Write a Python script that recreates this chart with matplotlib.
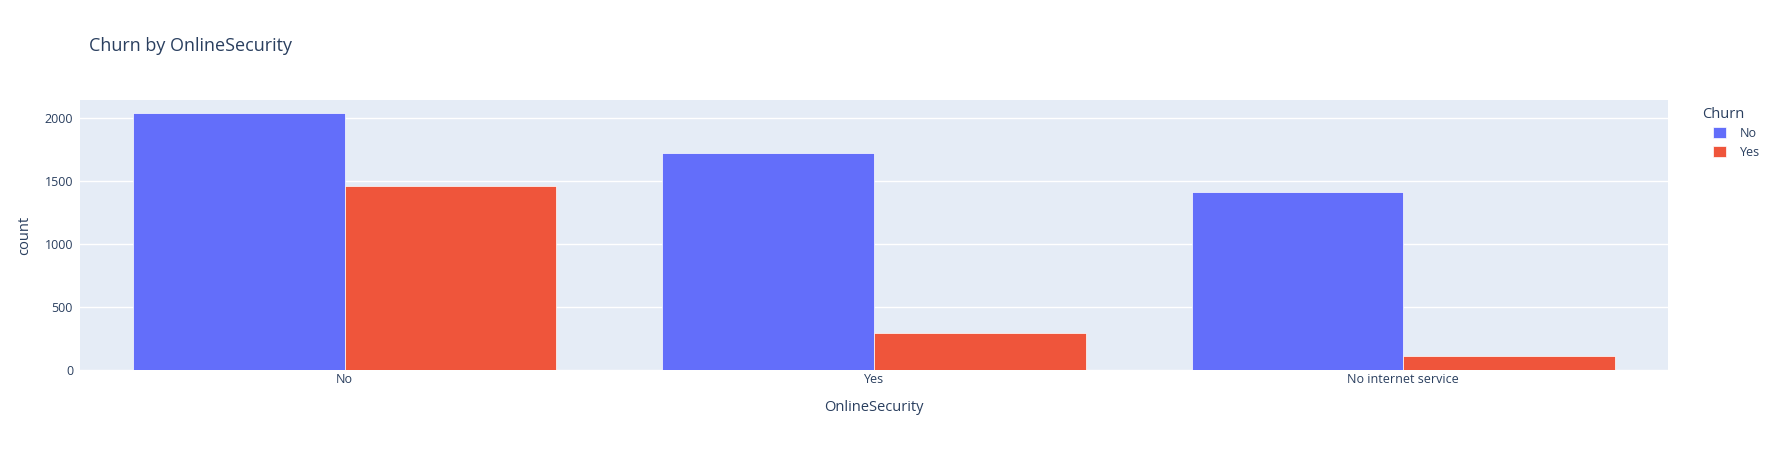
import matplotlib

matplotlib.use("Agg")
import matplotlib.pyplot as plt
import numpy as np
from matplotlib.patches import Patch

plt.rcParams["font.family"] = ["Open Sans", "DejaVu Sans"]

# data
categories = ["No", "Yes", "No internet service"]
churn_no = [2037, 1724, 1413]
churn_yes = [1461, 295, 113]
series_names = ["No", "Yes"]

TEXT = "#2a3f5f"
BG = "#E5ECF6"
COLORS = ["#636EFA", "#EF553B"]

fig = plt.figure(figsize=(17.78, 4.5), dpi=100)
ax = fig.add_axes([80 / 1778, 80 / 450, 1588 / 1778, 270 / 450])
ax.set_facecolor(BG)

x = np.arange(len(categories))
width = 0.4
ax.bar(x - width / 2, churn_no, width, color=COLORS[0], edgecolor="white",
       linewidth=0.5, zorder=3, label=series_names[0])
ax.bar(x + width / 2, churn_yes, width, color=COLORS[1], edgecolor="white",
       linewidth=0.5, zorder=3, label=series_names[1])

ax.set_xlim(-0.5, len(categories) - 0.5)
ax.set_ylim(0, max(churn_no + churn_yes) * 1.0525)
ax.set_yticks([0, 500, 1000, 1500, 2000])
ax.set_xticks(x)
ax.set_xticklabels(categories)
ax.grid(axis="y", color="white", linewidth=1, zorder=0)
ax.tick_params(length=0, labelsize=9, colors=TEXT, pad=5)
ax.tick_params(axis="x", pad=2)
for s in ax.spines.values():
    s.set_visible(False)

ax.set_xlabel("OnlineSecurity", fontsize=10.5, color=TEXT, labelpad=10)
ax.set_ylabel("count", fontsize=10.5, color=TEXT, labelpad=9)

fig.text(89 / 1778, 1 - 46 / 450, "Churn by OnlineSecurity", fontsize=13,
         color=TEXT, va="center", ha="left")

# legend: title drawn separately so the items can be indented like plotly
fig.text(1702 / 1778, 1 - 115 / 450, "Churn", fontsize=10.5, color=TEXT,
         va="center", ha="left")
handles = [Patch(facecolor=COLORS[i], edgecolor="white", linewidth=0.5,
                 label=series_names[i]) for i in range(2)]
leg = fig.legend(handles=handles, loc="upper left",
                 bbox_to_anchor=(1713 / 1778, 1 - 126.5 / 450), frameon=False,
                 borderpad=0, borderaxespad=0,
                 fontsize=9, handlelength=1.05, handleheight=1.05,
                 handletextpad=1.1, labelspacing=0.5)
for t in leg.get_texts():
    t.set_color(TEXT)

fig.savefig("out.png", dpi=100)
